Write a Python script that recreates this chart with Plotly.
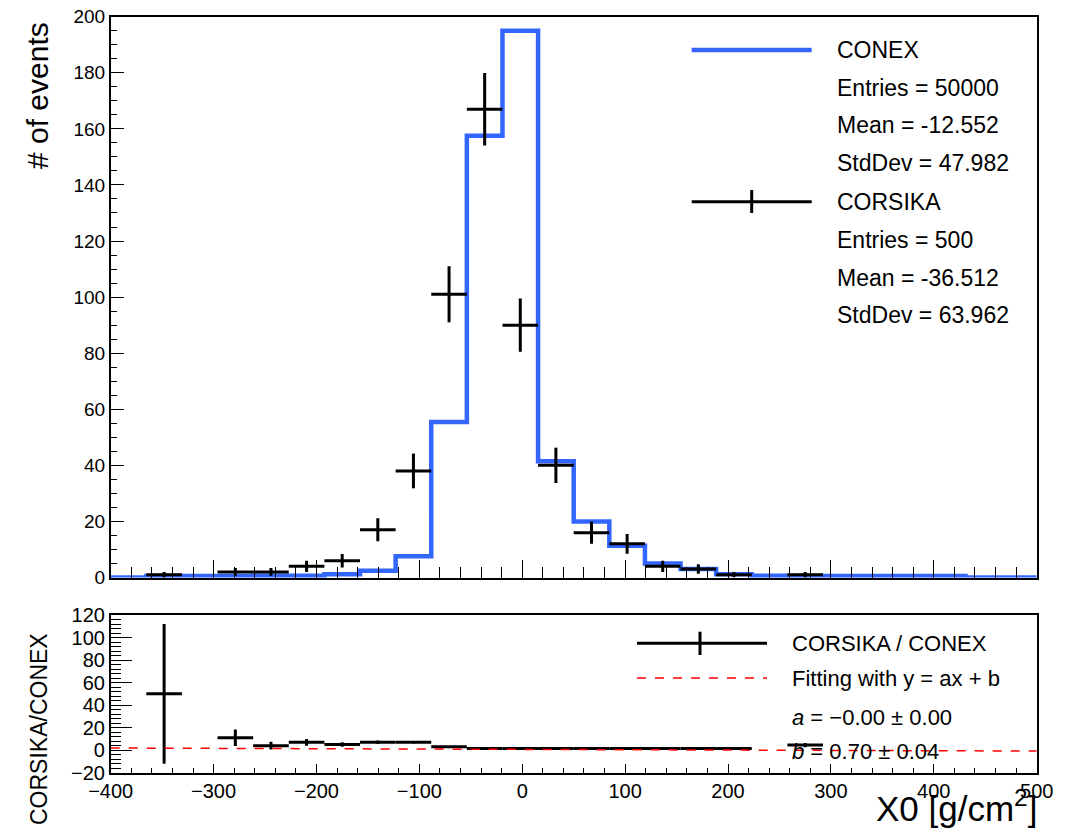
import numpy as np
import plotly.graph_objects as go

FONT = "Liberation Sans, Arial, Helvetica, sans-serif"

# ---- binning: 26 equal bins on [-400, 500] g/cm^2 ----
x_min, x_max, n_bins = -400.0, 500.0, 26
edges = np.linspace(x_min, x_max, n_bins + 1)
centers = 0.5 * (edges[:-1] + edges[1:])
half_w = 0.5 * (edges[1] - edges[0])

# ---- CONEX histogram (scaled), one value per bin ----
conex = [0.0, 0.5, 0.5, 0.5, 0.6, 0.6, 1.2, 2.4, 7.6, 55.5, 157.5, 195.0, 41.5,
         20.0, 11.3, 5.0, 3.0, 1.2, 0.6, 0.5, 0.5, 0.5, 0.5, 0.5, 0.0, 0.0]

# ---- CORSIKA histogram: filled bins, counts and errors ----
corsika_bin = [1, 3, 4, 5, 6, 7, 8, 9, 10, 11, 12, 13, 14, 15, 16, 17, 19]
corsika_cnt = [1, 2, 2, 4, 6, 17, 38, 101, 167, 90, 40, 16, 12, 4, 3, 1, 1]
corsika_err = [1.0, 1.4, 1.4, 2.0, 2.4, 4.1, 6.2, 10.0, 12.9, 9.5, 6.3, 4.0,
               3.5, 2.0, 1.7, 1.0, 1.0]

# ---- ratio CORSIKA / CONEX ----
ratio_bin = [1, 3, 4, 5, 6, 7, 8, 9, 10, 11, 12, 13, 14, 15, 16, 17, 19]
ratio_val = [50.0, 11.0, 4.0, 7.0, 5.0, 7.0, 7.0, 3.0, 1.5, 1.5, 1.5, 1.5,
             1.5, 1.5, 1.5, 1.5, 4.5]
ratio_err = [62.0, 7.4, 3.5, 3.0, 2.0, 1.5, 1.0, 0.5, 0.3, 0.3, 0.3, 0.4,
             0.5, 0.6, 0.6, 1.0, 1.8]

# ---- linear fit y = a x + b ----
fit_a, fit_a_err = -0.003, 0.001
fit_b, fit_b_err = 0.70, 0.04

# ---- statistics boxes ----
conex_stats = {"Entries": "50000", "Mean": "-12.552", "StdDev": "47.982"}
corsika_stats = {"Entries": "500", "Mean": "-36.512", "StdDev": "63.962"}

BLUE = "#3366FF"
W, H = 1071, 832


def px(xp):
    return xp / W


def py(yp):
    return 1.0 - yp / H


fig = go.Figure()

# CONEX step histogram
fig.add_trace(go.Scatter(
    x=edges, y=conex + [conex[-1]], mode="lines", line_shape="hv",
    line=dict(color=BLUE, width=4.5), xaxis="x", yaxis="y", hoverinfo="skip"))

# CORSIKA points with bin-width and statistical error bars
cx = [centers[i] for i in corsika_bin]
fig.add_trace(go.Scatter(
    x=cx, y=corsika_cnt, mode="markers",
    marker=dict(size=1, color="black"),
    error_x=dict(type="data", array=[half_w] * len(cx), width=0, thickness=3, color="black"),
    error_y=dict(type="data", array=corsika_err, width=0, thickness=3, color="black"),
    xaxis="x", yaxis="y"))

# ratio points
rx = [centers[i] for i in ratio_bin]
fig.add_trace(go.Scatter(
    x=rx, y=ratio_val, mode="markers",
    marker=dict(size=1, color="black"),
    error_x=dict(type="data", array=[half_w] * len(rx), width=0, thickness=3, color="black"),
    error_y=dict(type="data", array=ratio_err, width=0, thickness=3, color="black"),
    xaxis="x2", yaxis="y2"))

# fitted line
fx = np.array([x_min, x_max])
fig.add_trace(go.Scatter(
    x=fx, y=fit_a * fx + fit_b, mode="lines",
    line=dict(color="red", width=1.5, dash="dash"), xaxis="x2", yaxis="y2"))

xdom = [px(110.7), px(1036.7)]
axis_common = dict(showline=True, mirror=True, linecolor="black", linewidth=1.5,
                   ticks="inside", tickcolor="black", tickwidth=1.2,
                   showgrid=False, zeroline=False, automargin=False)

fig.update_layout(
    width=W, height=H, margin=dict(l=0, r=0, t=0, b=0, autoexpand=False),
    plot_bgcolor="white", paper_bgcolor="white", showlegend=False,
    font=dict(family=FONT, color="black"),
    xaxis=dict(domain=xdom, anchor="y", range=[x_min, x_max], tick0=0, dtick=100,
               ticklen=18, showticklabels=False,
               minor=dict(dtick=20, ticklen=11, ticks="inside", tickcolor="black", showgrid=False),
               **axis_common),
    yaxis=dict(domain=[py(577.5), py(16.7)], anchor="x", range=[0, 200], tick0=0, dtick=20,
               ticklen=14, tickfont=dict(size=19),
               minor=dict(dtick=5, ticklen=7, ticks="inside", tickcolor="black", showgrid=False),
               **axis_common),
    xaxis2=dict(domain=xdom, anchor="y2", range=[x_min, x_max], tick0=0, dtick=100,
                ticklen=9, tickfont=dict(size=20),
                minor=dict(dtick=20, ticklen=5, ticks="inside", tickcolor="black", showgrid=False),
                **axis_common),
    yaxis2=dict(domain=[py(772.7), py(615)], anchor="x2", range=[-20, 120], tick0=0, dtick=20,
                ticklen=22, tickfont=dict(size=20),
                minor=dict(dtick=4, ticklen=11, ticks="inside", tickcolor="black", showgrid=False),
                **axis_common),
)

ann = []


def text(x, y, s, size, xanchor="left", angle=0):
    ann.append(dict(x=px(x), y=py(y), xref="paper", yref="paper", text=s, showarrow=False,
                    xanchor=xanchor, yanchor="middle", textangle=angle,
                    font=dict(size=size, family=FONT, color="black")))


# axis titles
text(37, 96, "# of events", 30, xanchor="center", angle=-90)
text(39, 729, "CORSIKA/CONEX", 23, xanchor="center", angle=-90)
text(1039, 806, "X0 [g/cm<sup>2</sup>]", 35, xanchor="right")

# upper legend / statistics
rows_top = [50, 88.3, 125, 163.3, 201.7, 240, 278.3, 315]
lines_top = (["CONEX"] + [f"{k} = {v}" for k, v in conex_stats.items()]
             + ["CORSIKA"] + [f"{k} = {v}" for k, v in corsika_stats.items()])
for yy, s in zip(rows_top, lines_top):
    text(835, yy, s, 23)

# lower legend
sign_a = "\u2212" if fit_a < 0 else ""
text(790, 643.3, "CORSIKA / CONEX", 22)
text(790, 678, "Fitting with y = ax + b", 22)
text(790, 717.7, f"<i>a</i> = {sign_a}{abs(fit_a):.2f} \u00b1 {fit_a_err:.2f}", 22)
text(790, 751.7, f"<i>b</i> = {fit_b:.2f} \u00b1 {fit_b_err:.2f}", 22)

fig.update_layout(annotations=ann)

# legend sample lines
shapes = [
    dict(type="line", xref="paper", yref="paper", x0=px(691.7), x1=px(811.7),
         y0=py(50), y1=py(50), line=dict(color=BLUE, width=4.5)),
    dict(type="line", xref="paper", yref="paper", x0=px(691.7), x1=px(811.7),
         y0=py(201.7), y1=py(201.7), line=dict(color="black", width=3)),
    dict(type="line", xref="paper", yref="paper", x0=px(751.7), x1=px(751.7),
         y0=py(190), y1=py(213), line=dict(color="black", width=3)),
    dict(type="line", xref="paper", yref="paper", x0=px(637), x1=px(767),
         y0=py(643.3), y1=py(643.3), line=dict(color="black", width=3)),
    dict(type="line", xref="paper", yref="paper", x0=px(700), x1=px(700),
         y0=py(631.7), y1=py(655), line=dict(color="black", width=3)),
    dict(type="line", xref="paper", yref="paper", x0=px(637), x1=px(767),
         y0=py(678), y1=py(678), line=dict(color="red", width=1.5, dash="dash")),
]
fig.update_layout(shapes=shapes)

fig.write_html("out.html")
